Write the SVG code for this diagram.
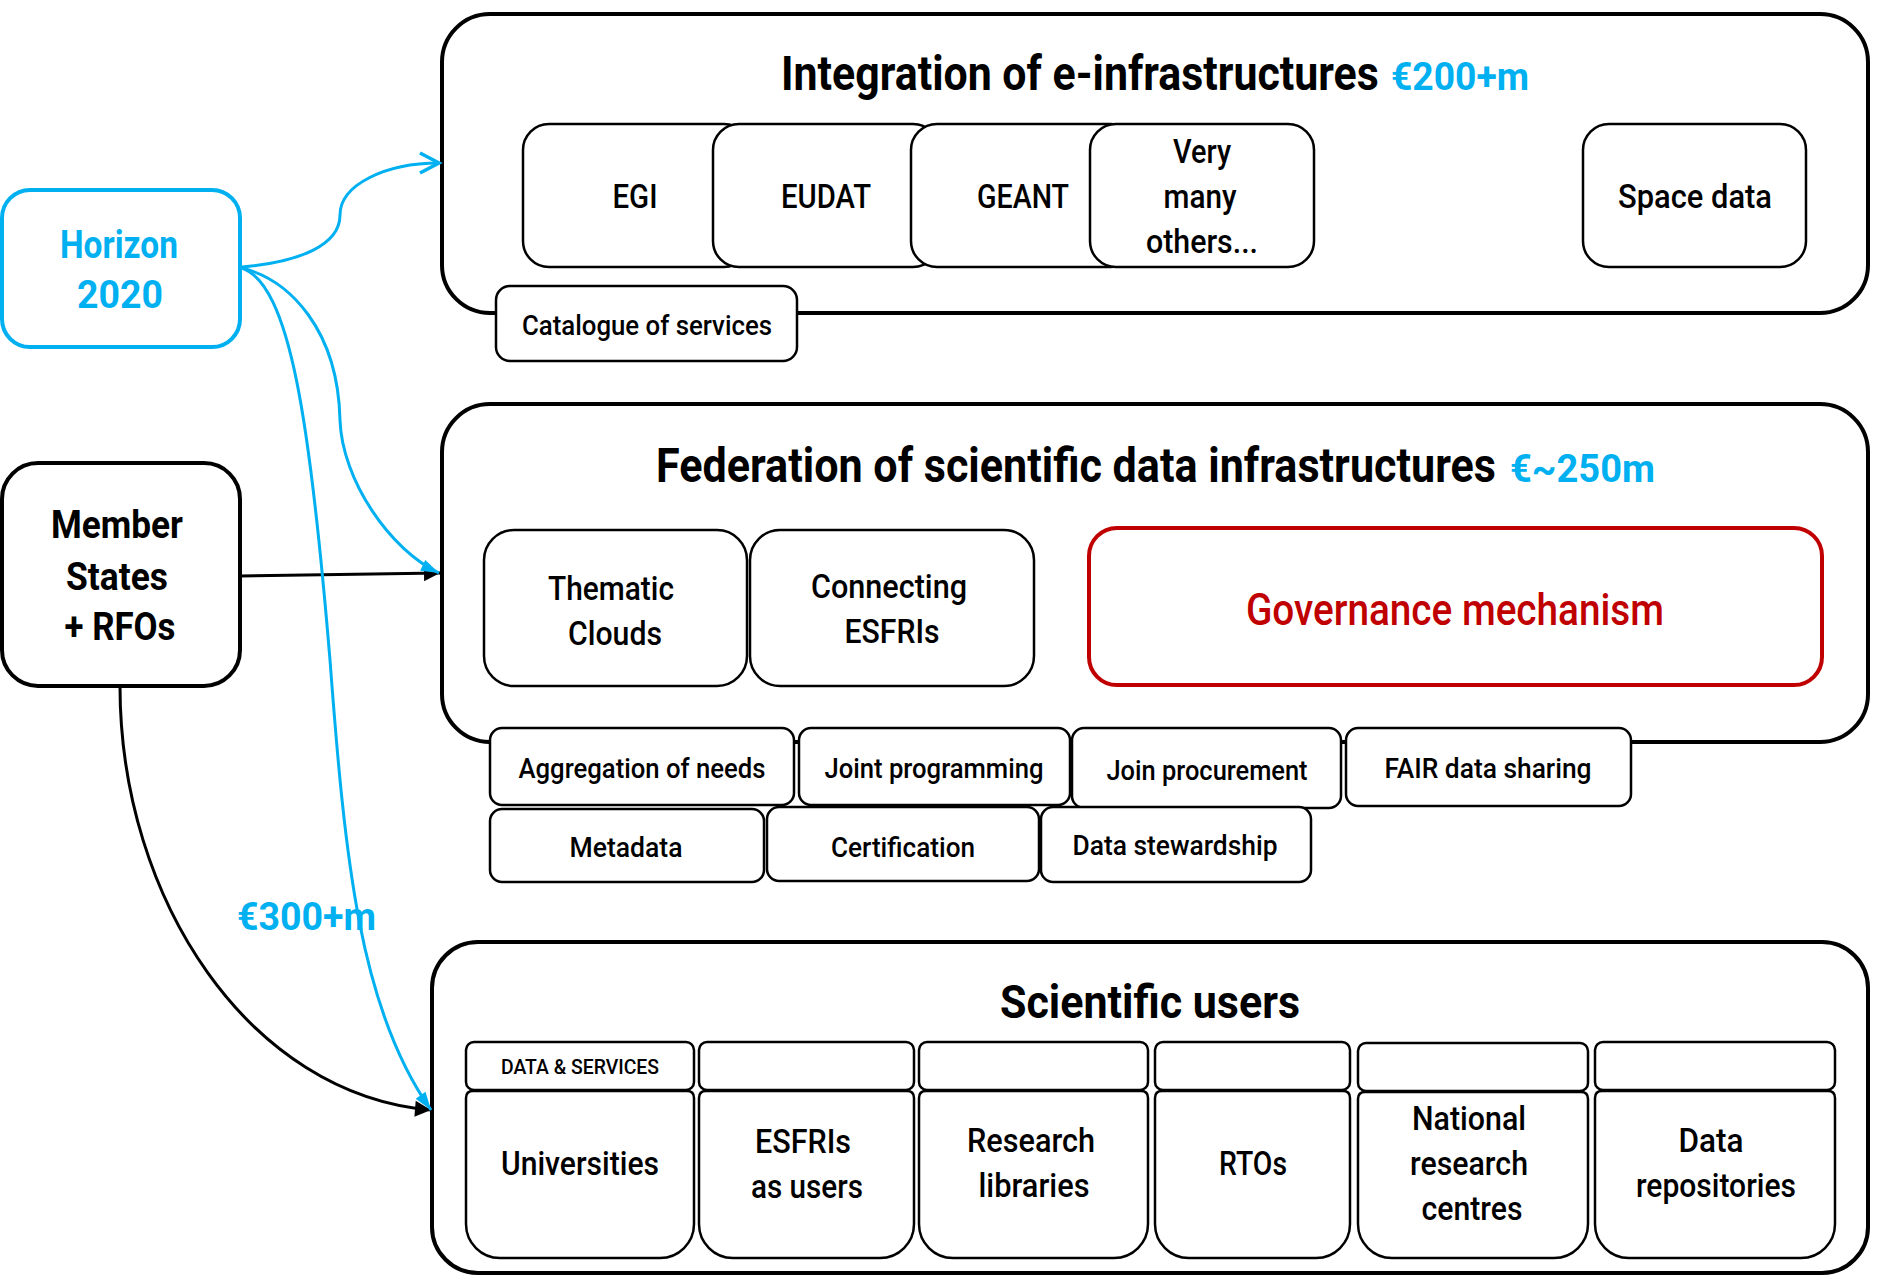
<svg xmlns="http://www.w3.org/2000/svg" width="1882" height="1276" viewBox="0 0 1882 1276">
<style>
.ct{fill:#fff;stroke:#000;stroke-width:4}
.bx{fill:#fff;stroke:#000;stroke-width:2.5}
.t{font-family:Roboto,"Liberation Sans",sans-serif;font-weight:500;fill:#000;text-anchor:middle}
.tb{font-family:Roboto,"Liberation Sans",sans-serif;font-weight:700;fill:#000}
.blue{fill:#00B0F0}
.l{font-size:33px}
.s{font-size:28px}
.conB{fill:none;stroke:#00B0F0;stroke-width:3}
.conK{fill:none;stroke:#000;stroke-width:3}
</style>
<defs>
<marker id="aOpen" markerUnits="userSpaceOnUse" markerWidth="30" markerHeight="30" refX="20" refY="11" orient="auto" overflow="visible">
<path d="M1,1 L20,11 L1,21" fill="none" stroke="#00B0F0" stroke-width="3.5" stroke-linejoin="miter"/>
</marker>
<marker id="aBlue" markerUnits="userSpaceOnUse" markerWidth="20" markerHeight="14" refX="18" refY="6" orient="auto" overflow="visible">
<path d="M0,0 L18,6 L0,12 Z" fill="#00B0F0"/>
</marker>
<marker id="aBlack" markerUnits="userSpaceOnUse" markerWidth="18" markerHeight="18" refX="16" refY="8" orient="auto" overflow="visible">
<path d="M0,0 L16,8 L0,16 Z" fill="#000"/>
</marker>
</defs>

<!-- containers -->
<g id="integration">
<rect class="ct" x="442" y="14" width="1426" height="299" rx="48"/>
<text class="tb" transform="translate(781,90) scale(0.7,1)" font-size="48" textLength="854" lengthAdjust="spacingAndGlyphs">Integration of e-infrastructures</text>
<text class="tb blue" x="1391" y="90" font-size="39" textLength="138" lengthAdjust="spacingAndGlyphs">€200+m</text>
</g>
<g id="federation">
<rect class="ct" x="442" y="404" width="1426" height="338" rx="48"/>
<text class="tb" transform="translate(656,482) scale(0.7,1)" font-size="48" textLength="1200" lengthAdjust="spacingAndGlyphs">Federation of scientific data infrastructures</text>
<text class="tb blue" x="1510" y="482" font-size="39" textLength="145" lengthAdjust="spacingAndGlyphs">€~250m</text>
</g>
<g id="users">
<rect class="ct" x="432" y="942" width="1436" height="331" rx="46"/>
<text class="tb" x="1000" y="1018" font-size="47" textLength="300" lengthAdjust="spacingAndGlyphs">Scientific users</text>
</g>

<!-- e-infrastructure boxes -->
<g id="egi"><rect class="bx" x="523" y="124" width="227" height="143" rx="26"/>
<text class="t l" x="635" y="208" textLength="45" lengthAdjust="spacingAndGlyphs">EGI</text></g>
<g id="eudat"><rect class="bx" x="713" y="124" width="226" height="143" rx="26"/>
<text class="t l" x="826" y="208" textLength="90" lengthAdjust="spacingAndGlyphs">EUDAT</text></g>
<g id="geant"><rect class="bx" x="911" y="124" width="226" height="143" rx="26"/>
<text class="t l" x="1023" y="208" textLength="92" lengthAdjust="spacingAndGlyphs">GEANT</text></g>
<g id="others"><rect class="bx" x="1090" y="124" width="224" height="143" rx="26"/>
<text class="t l" x="1202" y="163" textLength="58" lengthAdjust="spacingAndGlyphs">Very</text>
<text class="t l" x="1200" y="208" textLength="73" lengthAdjust="spacingAndGlyphs">many</text>
<text class="t l" x="1202" y="253" textLength="112" lengthAdjust="spacingAndGlyphs">others...</text></g>
<g id="space"><rect class="bx" x="1583" y="124" width="223" height="143" rx="26"/>
<text class="t l" x="1695" y="208" textLength="154" lengthAdjust="spacingAndGlyphs">Space data</text></g>
<g id="catalogue"><rect class="bx" x="496" y="286" width="301" height="75" rx="14"/>
<text class="t s" x="647" y="335" textLength="250" lengthAdjust="spacingAndGlyphs">Catalogue of services</text></g>

<!-- sources -->
<g id="horizon"><rect x="2" y="190" width="238" height="157" rx="28" fill="#fff" stroke="#00B0F0" stroke-width="4"/>
<text class="tb blue" x="119" y="258" font-size="39" text-anchor="middle" textLength="118" lengthAdjust="spacingAndGlyphs">Horizon</text>
<text class="tb blue" x="120" y="308" font-size="39" text-anchor="middle" textLength="86" lengthAdjust="spacingAndGlyphs">2020</text></g>
<g id="member"><rect class="ct" x="2" y="463" width="238" height="223" rx="36"/>
<text class="tb" x="117" y="538" font-size="39" text-anchor="middle" textLength="132" lengthAdjust="spacingAndGlyphs">Member</text>
<text class="tb" x="117" y="590" font-size="39" text-anchor="middle" textLength="102" lengthAdjust="spacingAndGlyphs">States</text>
<text class="tb" x="120" y="640" font-size="39" text-anchor="middle" textLength="111" lengthAdjust="spacingAndGlyphs">+ RFOs</text></g>

<!-- federation boxes -->
<g id="thematic"><rect class="bx" x="484" y="530" width="263" height="156" rx="30"/>
<text class="t l" x="611" y="600" textLength="126" lengthAdjust="spacingAndGlyphs">Thematic</text>
<text class="t l" x="615" y="645" textLength="94" lengthAdjust="spacingAndGlyphs">Clouds</text></g>
<g id="connecting"><rect class="bx" x="750" y="530" width="284" height="156" rx="30"/>
<text class="t l" x="889" y="598" textLength="156" lengthAdjust="spacingAndGlyphs">Connecting</text>
<text class="t l" x="892" y="643" textLength="95" lengthAdjust="spacingAndGlyphs">ESFRIs</text></g>
<g id="governance"><rect x="1089" y="528" width="733" height="157" rx="28" fill="#fff" stroke="#C00000" stroke-width="4"/>
<text class="t" x="1455" y="625" font-size="44" style="fill:#C00000" textLength="418" lengthAdjust="spacingAndGlyphs">Governance mechanism</text></g>

<g id="aggregation"><rect class="bx" x="490" y="728" width="304" height="77" rx="12"/>
<text class="t s" x="642" y="778" textLength="247" lengthAdjust="spacingAndGlyphs">Aggregation of needs</text></g>
<g id="jointprog"><rect class="bx" x="799" y="728" width="271" height="77" rx="12"/>
<text class="t s" x="934" y="778" textLength="219" lengthAdjust="spacingAndGlyphs">Joint programming</text></g>
<g id="joinproc"><rect class="bx" x="1072" y="728" width="269" height="80" rx="12"/>
<text class="t s" x="1207" y="780" textLength="201" lengthAdjust="spacingAndGlyphs">Join procurement</text></g>
<g id="fair"><rect class="bx" x="1346" y="728" width="285" height="78" rx="12"/>
<text class="t s" x="1488" y="778" textLength="207" lengthAdjust="spacingAndGlyphs">FAIR data sharing</text></g>
<g id="metadata"><rect class="bx" x="490" y="809" width="274" height="73" rx="12"/>
<text class="t s" x="626" y="857" textLength="113" lengthAdjust="spacingAndGlyphs">Metadata</text></g>
<g id="certification"><rect class="bx" x="767" y="807" width="272" height="74" rx="12"/>
<text class="t s" x="903" y="857" textLength="144" lengthAdjust="spacingAndGlyphs">Certification</text></g>
<g id="stewardship"><rect class="bx" x="1041" y="807" width="270" height="75" rx="12"/>
<text class="t s" x="1175" y="855" textLength="205" lengthAdjust="spacingAndGlyphs">Data stewardship</text></g>

<!-- user columns -->
<g id="universities">
<rect class="bx" x="466" y="1042" width="228" height="48" rx="8"/>
<path class="bx" d="M466,1098 Q466,1091 473,1091 L687,1091 Q694,1091 694,1098 L694,1224 A34,34 0 0 1 660,1258 L500,1258 A34,34 0 0 1 466,1224 Z"/>
<text class="t" x="580" y="1074" font-size="21" textLength="158" lengthAdjust="spacingAndGlyphs">DATA &amp; SERVICES</text>
<text class="t l" x="580" y="1175" textLength="158" lengthAdjust="spacingAndGlyphs">Universities</text>
</g>
<g id="esfris">
<rect class="bx" x="699" y="1042" width="215" height="48" rx="8"/>
<path class="bx" d="M699,1098 Q699,1091 706,1091 L907,1091 Q914,1091 914,1098 L914,1224 A34,34 0 0 1 880,1258 L733,1258 A34,34 0 0 1 699,1224 Z"/>
<text class="t l" x="803" y="1153" textLength="96" lengthAdjust="spacingAndGlyphs">ESFRIs</text>
<text class="t l" x="807" y="1198" textLength="112" lengthAdjust="spacingAndGlyphs">as users</text>
</g>
<g id="libraries">
<rect class="bx" x="919" y="1042" width="229" height="48" rx="8"/>
<path class="bx" d="M919,1098 Q919,1091 926,1091 L1141,1091 Q1148,1091 1148,1098 L1148,1224 A34,34 0 0 1 1114,1258 L953,1258 A34,34 0 0 1 919,1224 Z"/>
<text class="t l" x="1031" y="1152" textLength="128" lengthAdjust="spacingAndGlyphs">Research</text>
<text class="t l" x="1034" y="1197" textLength="111" lengthAdjust="spacingAndGlyphs">libraries</text>
</g>
<g id="rtos">
<rect class="bx" x="1155" y="1042" width="195" height="48" rx="8"/>
<path class="bx" d="M1155,1098 Q1155,1091 1162,1091 L1343,1091 Q1350,1091 1350,1098 L1350,1224 A34,34 0 0 1 1316,1258 L1189,1258 A34,34 0 0 1 1155,1224 Z"/>
<text class="t l" x="1253" y="1175" textLength="68" lengthAdjust="spacingAndGlyphs">RTOs</text>
</g>
<g id="national">
<rect class="bx" x="1358" y="1043" width="230" height="48" rx="8"/>
<path class="bx" d="M1358,1099 Q1358,1092 1365,1092 L1581,1092 Q1588,1092 1588,1099 L1588,1224 A34,34 0 0 1 1554,1258 L1392,1258 A34,34 0 0 1 1358,1224 Z"/>
<text class="t l" x="1469" y="1130" textLength="114" lengthAdjust="spacingAndGlyphs">National</text>
<text class="t l" x="1469" y="1175" textLength="118" lengthAdjust="spacingAndGlyphs">research</text>
<text class="t l" x="1472" y="1220" textLength="101" lengthAdjust="spacingAndGlyphs">centres</text>
</g>
<g id="repositories">
<rect class="bx" x="1595" y="1042" width="240" height="48" rx="8"/>
<path class="bx" d="M1595,1098 Q1595,1091 1602,1091 L1828,1091 Q1835,1091 1835,1098 L1835,1224 A34,34 0 0 1 1801,1258 L1629,1258 A34,34 0 0 1 1595,1224 Z"/>
<text class="t l" x="1711" y="1152" textLength="65" lengthAdjust="spacingAndGlyphs">Data</text>
<text class="t l" x="1716" y="1197" textLength="160" lengthAdjust="spacingAndGlyphs">repositories</text>
</g>

<!-- connectors -->
<g id="connectors">
<path class="conK" d="M240,576 L440,573" marker-end="url(#aBlack)"/>
<path class="conK" d="M120,686 C120,900 250,1095 431,1110" marker-end="url(#aBlack)"/>
<path class="conB" d="M242,267 C300,262 340,245 340,215 C340,185 385,163 439,163" marker-end="url(#aOpen)"/>
<path class="conB" d="M242,268 C290,280 338,330 340,420 C342,480 390,550 439,573" marker-end="url(#aBlue)"/>
<path class="conB" d="M242,268 C290,285 310,420 330,660 C345,860 360,1010 431,1110" marker-end="url(#aBlue)"/>
<text class="tb blue" x="237" y="930" font-size="38" textLength="139" lengthAdjust="spacingAndGlyphs">€300+m</text>
</g>
</svg>
